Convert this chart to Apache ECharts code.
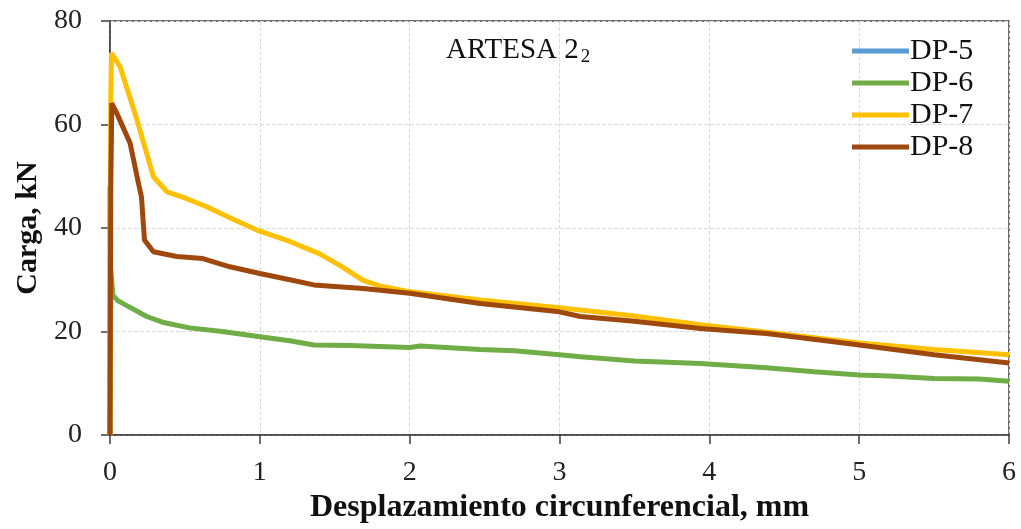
<!DOCTYPE html>
<html>
<head>
<meta charset="utf-8">
<script src="https://cdn.jsdelivr.net/npm/echarts@6/dist/echarts.min.js"></script>
<style>html,body{margin:0;padding:0;background:#fff}#c{width:1021px;height:529px}</style>
</head>
<body>
<div id="c"></div>
<script>
const seriesNames = ['DP-5', 'DP-6', 'DP-7', 'DP-8'];
const xTicks = [0, 1, 2, 3, 4, 5, 6];
const yTicks = [0, 20, 40, 60, 80];

const dp5X = [0, 0];
const dp5Y = [0, 48];

const dp6X = [0, 0.005, 0.02, 0.05, 0.1, 0.245, 0.35, 0.53, 0.75, 1.0, 1.2, 1.36, 1.6, 1.8, 2.0, 2.07, 2.47, 2.7, 3.0, 3.14, 3.5, 3.94, 4.38, 4.7, 5.0, 5.2, 5.5, 5.8, 6.0];
const dp6Y = [0, 32, 27, 26, 25.2, 22.9, 21.8, 20.7, 20.0, 19.0, 18.2, 17.4, 17.3, 17.1, 16.9, 17.2, 16.5, 16.3, 15.5, 15.1, 14.3, 13.8, 13.0, 12.2, 11.6, 11.4, 10.9, 10.8, 10.4];

const dp7X = [0, 0.005, 0.01, 0.067, 0.18, 0.29, 0.38, 0.5, 0.645, 0.8, 0.98, 1.2, 1.4, 1.55, 1.63, 1.69, 1.8, 1.98, 2.47, 3.0, 3.5, 3.94, 4.4, 5.0, 5.5, 6.0];
const dp7Y = [0, 65, 73.8, 71.2, 60.9, 49.9, 47.0, 45.8, 44.1, 42.0, 39.6, 37.4, 35.0, 32.5, 31.0, 29.9, 28.8, 27.8, 26.1, 24.6, 23.0, 21.3, 19.8, 17.8, 16.5, 15.5];

const dp8X = [0, 0.005, 0.012, 0.045, 0.134, 0.18, 0.21, 0.23, 0.29, 0.445, 0.62, 0.8, 1.0, 1.2, 1.36, 1.69, 2.0, 2.47, 3.0, 3.14, 3.5, 3.94, 4.38, 4.83, 5.0, 5.5, 6.0];
const dp8Y = [0, 48, 64.1, 62.2, 56.4, 50, 46, 37.7, 35.4, 34.5, 34.1, 32.5, 31.2, 30.0, 29.0, 28.3, 27.4, 25.4, 23.8, 22.9, 22.0, 20.6, 19.6, 18.0, 17.4, 15.5, 13.9];

const colors = ['#5B9BD5', '#70AD47', '#FFC000', '#9E480E'];
const allX = [dp5X, dp6X, dp7X, dp8X];
const allY = [dp5Y, dp6Y, dp7Y, dp8Y];

const FONT = 'Liberation Serif';
const chart = echarts.init(document.getElementById('c'));
chart.setOption({
  animation: false,
  backgroundColor: '#fff',
  color: colors,
  title: {
    text: '{a|ARTESA 2}{b|2}',
    left: 441, top: 29,
    textStyle: {
      fontWeight: 'normal',
      rich: {
        a: {fontFamily: FONT, fontSize: 29, fontWeight: 'normal', color: '#111'},
        b: {fontFamily: FONT, fontSize: 19, fontWeight: 'normal', color: '#111', padding: [14, 0, 0, 2]}
      }
    }
  },
  legend: {
    orient: 'vertical', left: 847, top: 31,
    icon: 'rect', itemWidth: 57, itemHeight: 5, itemGap: 2,
    data: seriesNames,
    textStyle: {fontFamily: FONT, fontSize: 30, color: '#111', padding: [0, 0, 0, -4]}
  },
  grid: {left: 110, right: 12, top: 21, bottom: 94, show: true, borderColor: '#404040', borderWidth: 1.5, containLabel: false, outerBoundsMode: 'none'},
  xAxis: {
    type: 'value', min: xTicks[0], max: xTicks[xTicks.length - 1], interval: 1,
    name: 'Desplazamiento circunferencial, mm', nameLocation: 'middle', nameGap: 54,
    nameTextStyle: {fontFamily: FONT, fontSize: 32, fontWeight: 'bold', color: '#111'},
    axisLine: {lineStyle: {color: '#404040', width: 1.5}},
    axisTick: {show: true, inside: false, length: 9, lineStyle: {color: '#404040', width: 1.5}},
    axisLabel: {fontFamily: FONT, fontSize: 28, color: '#222', margin: 24},
    splitLine: {show: true, lineStyle: {color: '#d9d9d9', type: 'dashed', width: 1}}
  },
  yAxis: {
    type: 'value', min: yTicks[0], max: yTicks[yTicks.length - 1], interval: 20,
    name: 'Carga, kN', nameLocation: 'middle', nameGap: 66,
    nameTextStyle: {fontFamily: FONT, fontSize: 30, fontWeight: 'bold', color: '#111'},
    axisLine: {lineStyle: {color: '#404040', width: 1.5}},
    axisTick: {show: true, inside: false, length: 9, lineStyle: {color: '#404040', width: 1.5}},
    axisLabel: {fontFamily: FONT, fontSize: 28, color: '#222', margin: 28},
    splitLine: {show: true, lineStyle: {color: '#d9d9d9', type: 'dashed', width: 1}}
  },
  series: seriesNames.map((n, i) => ({
    name: n, type: 'line', showSymbol: false, symbol: 'none',
    data: allX[i].map((x, k) => [x, allY[i][k]]),
    lineStyle: {color: colors[i], width: 5},
    itemStyle: {color: colors[i]},
    z: 2 + i
  }))
});
</script>
</body>
</html>
